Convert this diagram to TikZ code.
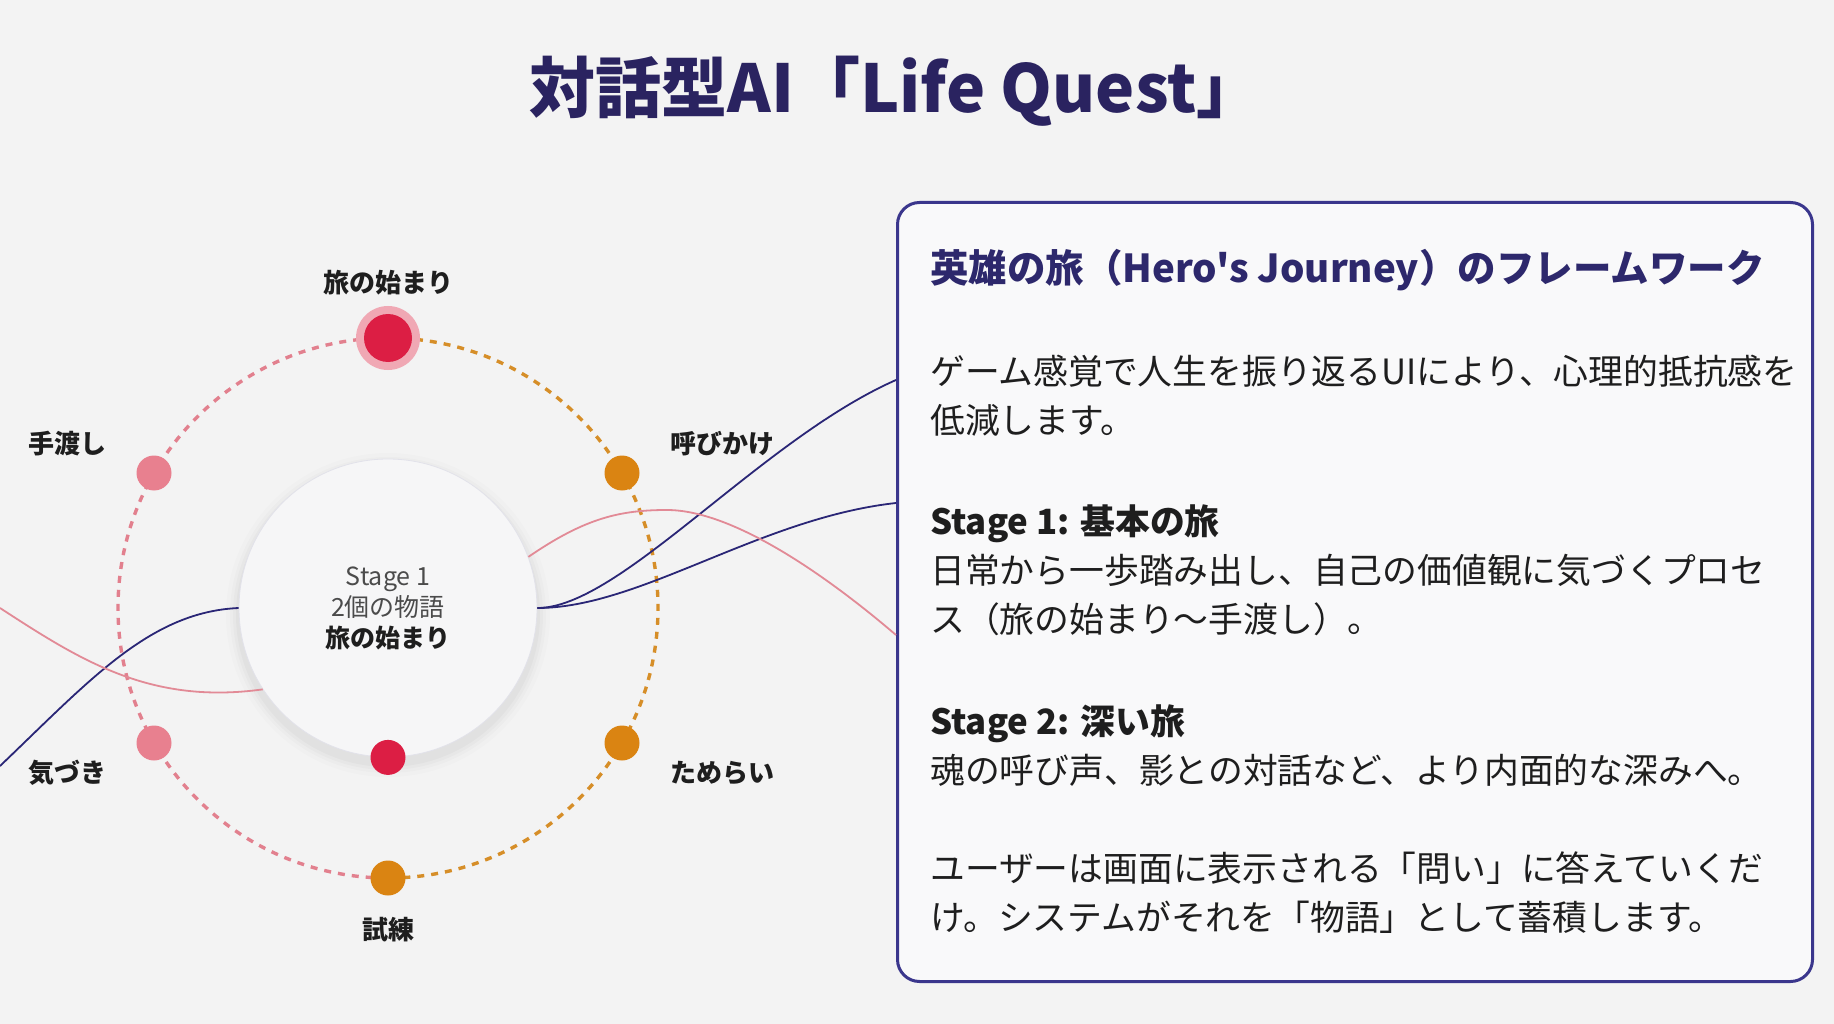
\documentclass[tikz,border=0pt]{standalone}
\usepackage{fontspec}
\setmainfont{Noto Sans CJK JP}[Ligatures=TeXOff]
\usepackage{tikz}
\usetikzlibrary{calc, positioning}
\usepackage{xcolor}
\definecolor{pageBg}{RGB}{243, 243, 243}
\definecolor{boxBg}{RGB}{249, 249, 250}
\definecolor{boxEdge}{RGB}{58, 54, 140}
\definecolor{titleInk}{RGB}{42, 35, 96}
\definecolor{headInk}{RGB}{45, 40, 108}
\definecolor{bodyInk}{RGB}{30, 30, 30}
\definecolor{hubInk}{RGB}{75, 75, 75}
\definecolor{hubBg}{RGB}{246, 246, 247}
\definecolor{hubEdge}{RGB}{226, 226, 234}
\definecolor{lineNavy}{RGB}{42, 38, 118}
\definecolor{linePink}{RGB}{226, 138, 150}
\definecolor{ringPink}{RGB}{226, 128, 142}
\definecolor{ringOrange}{RGB}{214, 142, 40}
\definecolor{dotRed}{RGB}{220, 30, 68}
\definecolor{haloPink}{RGB}{240, 168, 180}
\definecolor{dotPink}{RGB}{232, 128, 143}
\definecolor{dotOrange}{RGB}{218, 132, 18}

\begin{document}
\begin{tikzpicture}[x=1pt, y=-1pt,
  dot/.style={circle, inner sep=0pt, minimum size=35pt},
  steplabel/.style={font=\fontsize{26}{30}\selectfont\bfseries, text=bodyInk, inner sep=0pt},
  ringdash/.style={line width=3.4pt, dash pattern=on 7pt off 7pt},
  storyline/.style={line width=1.8pt},
  bodytext/.style={anchor=base west, align=left, inner sep=0pt, text=bodyInk,
                   font=\fontsize{34.8}{49}\selectfont}]
  \useasboundingbox[fill=pageBg] (0,0) rectangle (1834,1024);

  \node[anchor=base, inner sep=0pt, text=titleInk, font=\fontsize{66}{70}\selectfont\bfseries]
    (title) at (896,113) {対話型AI「Life Quest」};

  % info box
  \node[draw=boxEdge, line width=3pt, rounded corners=22pt, fill=boxBg, inner sep=0pt,
        anchor=north west, minimum width=915pt, minimum height=779pt] (frame) at (896,201) {};
  \coordinate (gateA) at (frame.west |- 0,380);
  \coordinate (gateB) at (frame.west |- 0,503);
  \coordinate (gateC) at (frame.west |- 0,635);

  % ring
  \coordinate (hubc) at (388,608);
  \draw[ringdash, ringPink] (388,338) arc[start angle=-90, end angle=-270, radius=270];
  \draw[ringdash, ringOrange] (388,338) arc[start angle=-90, end angle=90, radius=270];

  % hub
  \foreach \r/\o in {162/0.012, 158/0.016, 155/0.02, 152/0.025}
    \fill[black, opacity=\o] ($(hubc)+(0,7)$) circle (\r);
  \node[circle, minimum size=298pt, inner sep=0pt, fill=hubBg, draw=hubEdge, line width=0.8pt,
        align=center, font=\fontsize{25}{31}\selectfont] (hub) at (hubc)
    {\textcolor{hubInk}{Stage 1}\\\textcolor{hubInk}{2個の物語}\\\textcolor{bodyInk}{\bfseries 旅の始まり}};

  % story lines
  \coordinate (navyIn) at (0,766);
  \coordinate (pinkIn) at (0,608);
  \draw[storyline, lineNavy] (navyIn) .. controls (90,680) and (150,612) .. (hub.west);
  \draw[storyline, linePink] (pinkIn) .. controls (80,660) and (150,705) .. (hub.213);
  \draw[storyline, lineNavy] (hub.east) .. controls (620,608) and (760,440) .. (gateA);
  \draw[storyline, lineNavy] (hub.east) .. controls (640,608) and (760,518) .. (gateB);
  \draw[storyline, linePink] (hub.20) .. controls (585,518) and (620,510) .. (667,510)
    .. controls (730,510) and (820,570) .. (gateC);

  % stages on the ring
  \node[dot, minimum size=64pt, fill=haloPink] (halo) at (388,338) {};
  \node[dot, minimum size=48pt, fill=dotRed] (start) at (388,338) {};
  \node[dot, fill=dotPink] (handoff) at (154,473) {};
  \node[dot, fill=dotOrange] (call) at (622,473) {};
  \node[dot, fill=dotPink] (notice) at (154,743) {};
  \node[dot, fill=dotOrange] (doubt) at (622,743) {};
  \node[dot, fill=dotOrange] (trial) at (388,878) {};
  \node[dot, fill=dotRed] (now) at (hub.south) {};

  \node[steplabel, above=10pt of halo] (startlbl) {旅の始まり};
  \node[steplabel, left=30pt of handoff, yshift=29pt] (handofflbl) {手渡し};
  \node[steplabel, right=31pt of call, yshift=29pt] (calllbl) {呼びかけ};
  \node[steplabel, left=30pt of notice, yshift=-30pt] (noticelbl) {気づき};
  \node[steplabel, right=31pt of doubt, yshift=-30pt] (doubtlbl) {ためらい};
  \node[steplabel, below=21pt of trial] (triallbl) {試練};

  % box text (base = last line)
  \node[bodytext, text=headInk, font=\fontsize{38.5}{49}\selectfont\bfseries] (head) at (930,283)
    {英雄の旅（Hero's Journey）のフレームワーク};
  \node[bodytext] (intro) at (930,433)
    {ゲーム感覚で人生を振り返るUIにより、心理的抵抗感を\\低減します。};
  \node[bodytext] (stageone) at (930,632)
    {\textbf{Stage 1: 基本の旅}\\日常から一歩踏み出し、自己の価値観に気づくプロセ\\ス（旅の始まり～手渡し）。};
  \node[bodytext] (stagetwo) at (930,783)
    {\textbf{Stage 2: 深い旅}\\魂の呼び声、影との対話など、より内面的な深みへ。};
  \node[bodytext] (closing) at (930,930)
    {ユーザーは画面に表示される「問い」に答えていくだ\\け。システムがそれを「物語」として蓄積します。};
\end{tikzpicture}
\end{document}
